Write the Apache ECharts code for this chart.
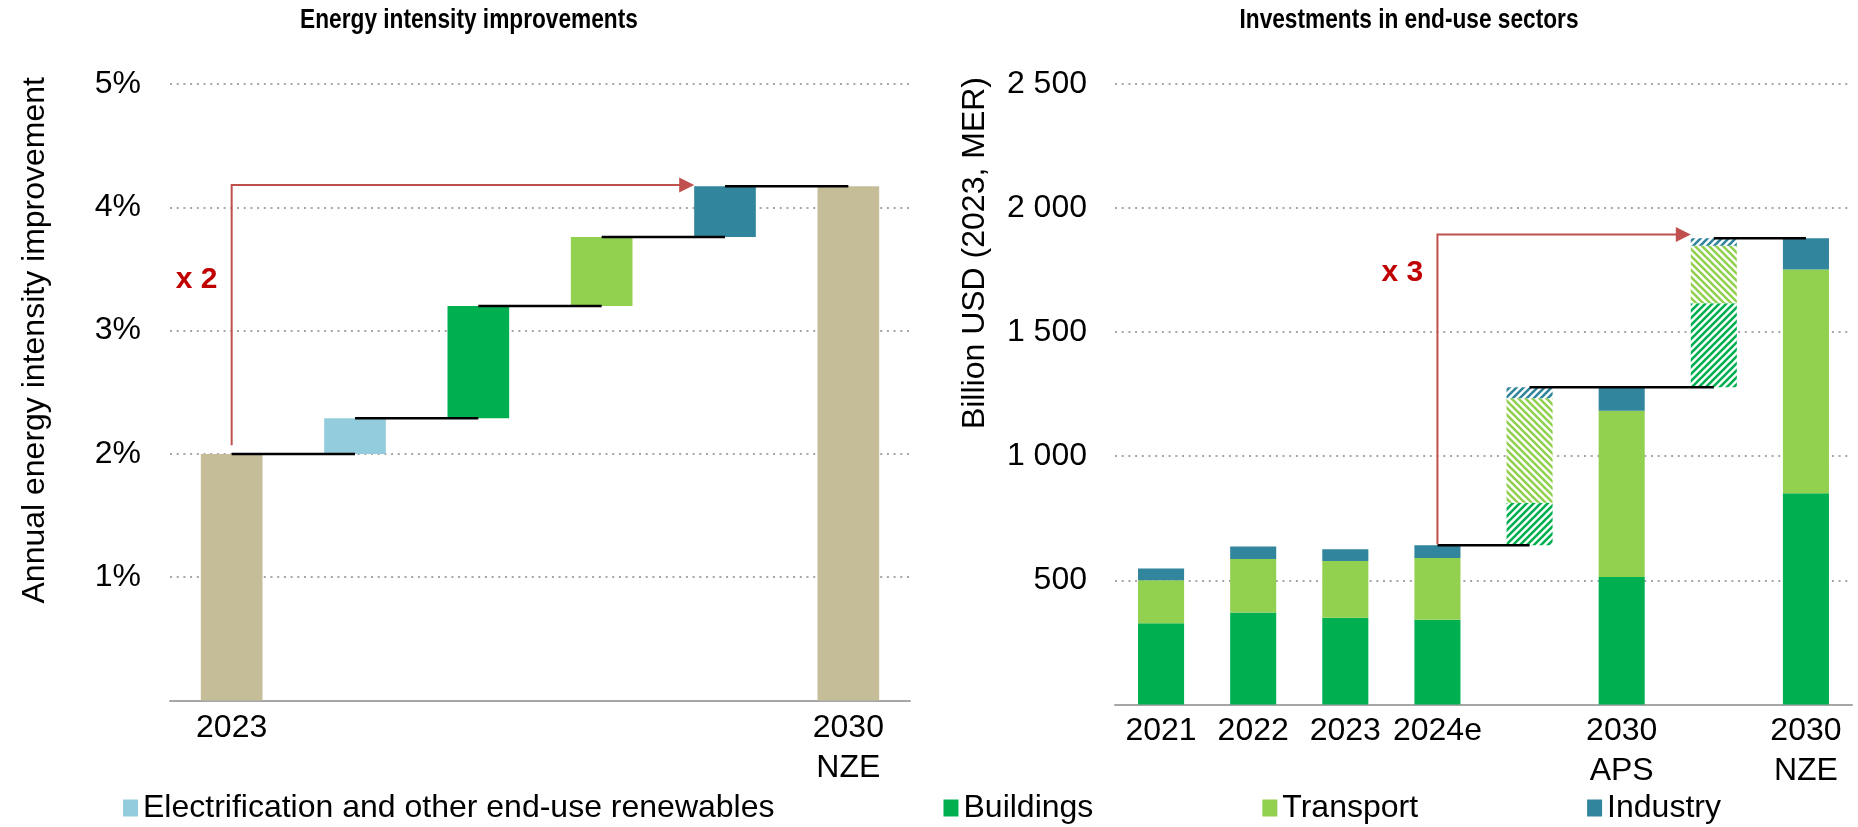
<!DOCTYPE html>
<html>
<head>
<meta charset="utf-8">
<script src="https://cdn.jsdelivr.net/npm/echarts@6/dist/echarts.min.js"></script>
<style>
  html, body { margin: 0; padding: 0; background: #fff; }
  #chart { width: 1858px; height: 827px; }
</style>
</head>
<body>
<div id="chart"></div>
<script>
// ---- Energy intensity improvements (waterfall, % per year) ----
const intensityCategories = ['2023', '', '', '', '', '2030\nNZE'];
const intensityTotals = [2.0, 0, 0, 0, 0, 4.17];
const intensityElectrification = [0, 0.29, 0, 0, 0, 0];
const intensityBuildings = [0, 0, 0.91, 0, 0, 0];
const intensityTransport = [0, 0, 0, 0.56, 0, 0];
const intensityIndustry = [0, 0, 0, 0, 0.41, 0];
const intensityTicks = [0, 1, 2, 3, 4, 5];

// ---- Investments in end-use sectors (billion USD, 2023 MER) ----
const investCategories = ['2021', '2022', '2023', '2024e', '', '2030\nAPS', '', '2030\nNZE'];
const investBuildings = [327, 370, 349, 341, 0, 513, 0, 851];
const investTransport = [173, 216, 229, 249, 0, 670, 0, 902];
const investIndustry = [48, 50, 47, 51, 0, 95, 0, 125];
const investTicks = [0, 500, 1000, 1500, 2000, 2500];
// step columns: [from column, step column, to column]
const investSteps = [[3, 4, 5], [5, 6, 7]];

const multiplierLabels = ['x 2', 'x 3'];

const FONT = 'Liberation Sans, Arial, Helvetica, sans-serif';
const C_TOTAL = '#C4BD97';
const C_ELEC = '#93CDDD';
const C_BUILD = '#00B050';
const C_TRANS = '#92D050';
const C_IND = '#31859C';
const C_ARROW = '#C0504D';
const C_MULT = '#C00000';

// diagonal stripe fill for the step columns
function stripes(color, rising) {
  const s = 7;
  const c = document.createElement('canvas');
  c.width = s; c.height = s;
  const g = c.getContext('2d');
  g.fillStyle = '#ffffff';
  g.fillRect(0, 0, s, s);
  g.strokeStyle = color;
  g.lineWidth = 2.6;
  g.beginPath();
  if (rising) {
    g.moveTo(-1, s + 1); g.lineTo(s + 1, -1);
    g.moveTo(-1, 1); g.lineTo(1, -1);
    g.moveTo(s - 1, s + 1); g.lineTo(s + 1, s - 1);
  } else {
    g.moveTo(-1, -1); g.lineTo(s + 1, s + 1);
    g.moveTo(s - 1, -1); g.lineTo(s + 1, 1);
    g.moveTo(-1, s - 1); g.lineTo(1, s + 1);
  }
  g.stroke();
  return { image: c, repeat: 'repeat' };
}

// waterfall offsets for the left panel
const intensitySteps = intensityCategories.map((_, i) =>
  intensityElectrification[i] + intensityBuildings[i] + intensityTransport[i] + intensityIndustry[i]);
const intensityBase = [];
const intensityLevel = [];
let running = 0;
intensityCategories.forEach((_, i) => {
  if (intensityTotals[i] > 0) {
    intensityBase.push(0);
    running = intensityTotals[i];
  } else {
    intensityBase.push(running);
    running += intensitySteps[i];
  }
  intensityLevel.push(running);
});
const intensityConnectors = [];
for (let i = 0; i < intensityCategories.length - 1; i++) {
  intensityConnectors.push([i, i + 1, intensityLevel[i]]);
}

// step columns for the right panel
const investTotal = investCategories.map((_, i) => investBuildings[i] + investTransport[i] + investIndustry[i]);
const investBase = investCategories.map(() => 0);
const stepBuildings = investCategories.map(() => 0);
const stepTransport = investCategories.map(() => 0);
const stepIndustry = investCategories.map(() => 0);
investSteps.forEach(([a, s, b]) => {
  investBase[s] = investTotal[a];
  stepBuildings[s] = investBuildings[b] - investBuildings[a];
  stepTransport[s] = investTransport[b] - investTransport[a];
  stepIndustry[s] = investIndustry[b] - investIndustry[a];
});
const investConnectors = [
  [3, 4, investTotal[3]],
  [4, 6, investTotal[5]],
  [6, 7, investTotal[7]]
];

// multiplier arrows: [from column, to column, start value, top value, label value]
const intensityArrow = [[0, 4, 2.07, 4.18, 3.41]];
const investArrow = [[3, 6, investTotal[3] + 4, 1894, 1738]];

const thousands = v => String(v).replace(/\B(?=(\d{3})+(?!\d))/g, ' ');

function renderConnector(params, api) {
  const p0 = api.coord([api.value(0), api.value(2)]);
  const p1 = api.coord([api.value(1), api.value(2)]);
  return {
    type: 'line',
    shape: { x1: p0[0], y1: p0[1], x2: p1[0], y2: p1[1] },
    style: { stroke: '#000', lineWidth: 2.5 }
  };
}

function makeArrowRenderer(label) {
  return function (params, api) {
    const c0 = api.value(0), c1 = api.value(1);
    const start = api.coord([c0, api.value(2)]);
    const corner = api.coord([c0, api.value(3)]);
    const target = api.coord([c1, api.value(3)]);
    const band = api.size([1, 0])[0];
    const tipX = target[0] - band * 0.25;
    const head = 15;
    const textPos = api.coord([c0, api.value(4)]);
    return {
      type: 'group',
      children: [
        {
          type: 'polyline',
          shape: { points: [start, corner, [tipX - head + 1, corner[1]]] },
          style: { stroke: C_ARROW, lineWidth: 2, fill: null }
        },
        {
          type: 'polygon',
          shape: { points: [[tipX, corner[1]], [tipX - head, corner[1] - 7.5], [tipX - head, corner[1] + 7.5]] },
          style: { fill: C_ARROW }
        },
        {
          type: 'text',
          x: start[0] - 35,
          y: textPos[1],
          style: {
            text: label, fill: C_MULT, font: 'bold 30px ' + FONT,
            textAlign: 'center', textVerticalAlign: 'middle'
          }
        }
      ]
    };
  };
}

const gridLine = { show: true, lineStyle: { color: '#A6A6A6', width: 2.2, type: [2, 4.7] } };
const tickFont = { fontSize: 32, color: '#000', fontFamily: FONT };

function bar(name, data, color, xi, stackName, extra) {
  return Object.assign({
    type: 'bar', name: name, data: data, stack: stackName,
    xAxisIndex: xi, yAxisIndex: xi, barWidth: '50%',
    itemStyle: { color: color }, emphasis: { disabled: true }
  }, extra || {});
}

// panel headings: bold, slightly condensed
function heading(text, x) {
  return {
    type: 'text', x: x, y: 21, scaleX: 0.84,
    style: { text: text, font: 'bold 27px ' + FONT, fill: '#000', textAlign: 'center', textVerticalAlign: 'middle' }
  };
}

const chart = echarts.init(document.getElementById('chart'), null, { renderer: 'canvas' });
chart.setOption({
  animation: false,
  textStyle: { fontFamily: FONT },
  graphic: [
    heading('Energy intensity improvements', 469),
    heading('Investments in end-use sectors', 1409),
    { type: 'text', x: 35, y: 77, rotation: Math.PI / 2, style: { text: 'Annual energy intensity improvement', font: '32px ' + FONT, fill: '#000', textAlign: 'right', textVerticalAlign: 'middle' } },
    { type: 'text', x: 975, y: 77, rotation: Math.PI / 2, style: { text: 'Billion USD (2023, MER)', font: '32px ' + FONT, fill: '#000', textAlign: 'right', textVerticalAlign: 'middle' } }
  ],
  legend: {
    data: ['Electrification and other end-use renewables', 'Buildings', 'Transport', 'Industry'],
    left: 118, top: 787, icon: 'rect', itemWidth: 15, itemHeight: 17, itemGap: 169,
    textStyle: { fontSize: 32, color: '#000', fontFamily: FONT },
    selectedMode: false
  },
  grid: [
    { left: 170, right: 948, top: 84, bottom: 126.5 },
    { left: 1115, right: 6, top: 84, bottom: 122.6 }
  ],
  xAxis: [
    {
      type: 'category', gridIndex: 0, data: intensityCategories,
      axisLine: { lineStyle: { color: '#A6A6A6', width: 2 } }, axisTick: { show: false },
      axisLabel: Object.assign({ interval: 0, margin: 8, lineHeight: 40 }, tickFont)
    },
    {
      type: 'category', gridIndex: 1, data: investCategories,
      axisLine: { lineStyle: { color: '#A6A6A6', width: 2 } }, axisTick: { show: false },
      axisLabel: Object.assign({ interval: 0, margin: 7, lineHeight: 40 }, tickFont)
    }
  ],
  yAxis: [
    {
      type: 'value', gridIndex: 0, min: intensityTicks[0], max: intensityTicks[intensityTicks.length - 1], interval: 1,
      axisLine: { show: false }, axisTick: { show: false }, splitLine: gridLine,
      axisLabel: Object.assign({ margin: 29, formatter: v => (v === 0 ? '' : v + '%') }, tickFont)
    },
    {
      type: 'value', gridIndex: 1, min: investTicks[0], max: investTicks[investTicks.length - 1], interval: 500,
      axisLine: { show: false }, axisTick: { show: false }, splitLine: gridLine,
      axisLabel: Object.assign({ margin: 28, formatter: v => (v === 0 ? '' : thousands(v)) }, tickFont)
    }
  ],
  series: [
    bar('base-left', intensityBase, 'rgba(0,0,0,0)', 0, 'L', { silent: true }),
    bar('2023 / 2030 NZE', intensityTotals, C_TOTAL, 0, 'L'),
    bar('Electrification and other end-use renewables', intensityElectrification, C_ELEC, 0, 'L'),
    bar('Buildings', intensityBuildings, C_BUILD, 0, 'L'),
    bar('Transport', intensityTransport, C_TRANS, 0, 'L'),
    bar('Industry', intensityIndustry, C_IND, 0, 'L'),
    {
      type: 'custom', name: 'steps-left', xAxisIndex: 0, yAxisIndex: 0, z: 5, silent: true,
      renderItem: renderConnector, data: intensityConnectors, encode: { x: [0, 1], y: 2 }
    },
    {
      type: 'custom', name: 'arrow-left', xAxisIndex: 0, yAxisIndex: 0, z: 6, silent: true, clip: false,
      renderItem: makeArrowRenderer(multiplierLabels[0]), data: intensityArrow, encode: { x: [0, 1], y: [2, 3] }
    },

    bar('base-right', investBase, 'rgba(0,0,0,0)', 1, 'R', { silent: true }),
    bar('Buildings', investBuildings, C_BUILD, 1, 'R'),
    bar('Buildings step', stepBuildings, stripes(C_BUILD, true), 1, 'R'),
    bar('Transport', investTransport, C_TRANS, 1, 'R'),
    bar('Transport step', stepTransport, stripes(C_TRANS, false), 1, 'R'),
    bar('Industry', investIndustry, C_IND, 1, 'R'),
    bar('Industry step', stepIndustry, stripes(C_IND, true), 1, 'R'),
    {
      type: 'custom', name: 'steps-right', xAxisIndex: 1, yAxisIndex: 1, z: 5, silent: true,
      renderItem: renderConnector, data: investConnectors, encode: { x: [0, 1], y: 2 }
    },
    {
      type: 'custom', name: 'arrow-right', xAxisIndex: 1, yAxisIndex: 1, z: 6, silent: true, clip: false,
      renderItem: makeArrowRenderer(multiplierLabels[1]), data: investArrow, encode: { x: [0, 1], y: [2, 3] }
    }
  ]
});
</script>
</body>
</html>
